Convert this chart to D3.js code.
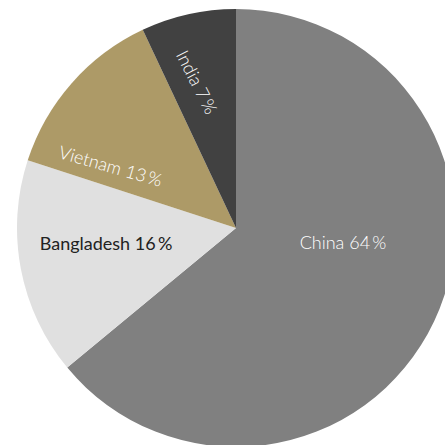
<!DOCTYPE html>
<html>
<head>
<meta charset="utf-8">
<script src="https://cdn.jsdelivr.net/npm/d3@7/dist/d3.min.js"></script>
<style>
  html, body { margin: 0; padding: 0; background: #fff; overflow: hidden; }
  svg { display: block; }
  text { font-family: Lato, "Open Sans", sans-serif; }
</style>
</head>
<body>
<svg id="chart" width="445" height="445"></svg>
<script>
// Country shares (%)
const countries = ["China", "Bangladesh", "Vietnam", "India"];
const shares = [64, 16, 13, 7];
const colors = ["#808080", "#e0e0e0", "#ad9a67", "#414141"];
const labelColors = ["#ffffff", "#222222", "#ffffff", "#ffffff"];
const labelWeights = [300, 400, 300, 300];

// Label placement relative to pie centre: dx, dy, rotation (deg)
const labelLayout = [
  { dx: 107, dy: 17, rot: 0 },
  { dx: -130, dy: 17, rot: 0 },
  { dx: -126, dy: -60, rot: 16 },
  { dx: -41, dy: -145, rot: 63 }
];

const svg = d3.select("#chart");
const cx = 236, cy = 228, radius = 219;

const data = countries.map((c, i) => ({ name: c, value: shares[i], i }));

const pie = d3.pie()
  .value(d => d.value)
  .sort(null)
  .startAngle(0)
  .endAngle(2 * Math.PI);

const arc = d3.arc().innerRadius(0).outerRadius(radius);

const g = svg.append("g").attr("transform", `translate(${cx},${cy})`);

g.selectAll("path")
  .data(pie(data))
  .join("path")
  .attr("d", arc)
  .attr("fill", d => colors[d.data.i]);

g.selectAll("text")
  .data(pie(data))
  .join("text")
  .attr("transform", d => {
    const l = labelLayout[d.data.i];
    return `translate(${l.dx},${l.dy}) rotate(${l.rot})`;
  })
  .attr("text-anchor", "middle")
  .attr("dominant-baseline", "middle")
  .attr("font-size", 18)
  .attr("font-weight", d => labelWeights[d.data.i])
  .attr("fill", d => labelColors[d.data.i])
  .text(d => `${d.data.name} ${d.data.value}\u2009%`);
</script>
</body>
</html>
